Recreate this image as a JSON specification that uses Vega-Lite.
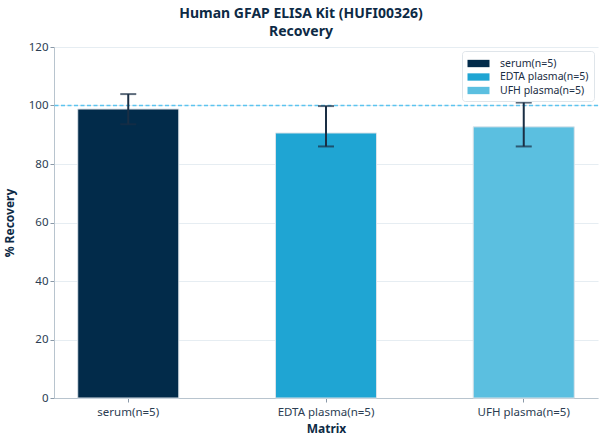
{
  "$schema": "https://vega.github.io/schema/vega-lite/v6.json",
  "width": 544,
  "height": 351,
  "autosize": {"type": "none"},
  "padding": {"left": 54, "top": 47, "right": 10, "bottom": 46},
  "background": "white",
  "config": {
    "font": "Noto Sans",
    "view": {"stroke": null},
    "axis": {
      "labelFont": "Noto Sans", "labelFontSize": 11.5, "labelColor": "#2b3d52",
      "titleFont": "Noto Sans", "titleFontSize": 12, "titleFontWeight": "bold", "titleColor": "#0d2a45",
      "domainColor": "#b8c4ce", "tickColor": "#8a99a8", "tickSize": 4
    }
  },
  "title": {
    "text": ["Human GFAP ELISA Kit (HUFI00326)", "Recovery"],
    "font": "Noto Sans", "fontSize": 14, "fontWeight": "bold", "color": "#0d2a45",
    "anchor": "middle", "frame": "bounds", "offset": 2, "lineHeight": 18
  },
  "data": {
    "values": [
      {"matrix": "serum(n=5)", "recovery": 98.8, "low": 93.6, "high": 103.9},
      {"matrix": "EDTA plasma(n=5)", "recovery": 90.6, "low": 86.0, "high": 99.8},
      {"matrix": "UFH plasma(n=5)", "recovery": 92.7, "low": 86.0, "high": 101.0}
    ]
  },
  "encoding": {
    "x": {
      "field": "matrix", "type": "nominal", "sort": null, "title": "Matrix",
      "scale": {"paddingInner": 0.489, "paddingOuter": 0.12},
      "axis": {"labelAngle": 0, "labelPadding": 4, "titlePadding": 6}
    }
  },
  "layer": [
    {
      "mark": {"type": "bar", "stroke": "#dce3e9", "strokeWidth": 1},
      "encoding": {
        "y": {
          "field": "recovery", "type": "quantitative", "title": "% Recovery",
          "scale": {"domain": [0, 120], "nice": false},
          "axis": {"values": [0, 20, 40, 60, 80, 100, 120], "grid": true, "gridColor": "#e6edf2", "gridWidth": 1.2, "titlePadding": 12}
        },
        "color": {
          "field": "matrix", "type": "nominal", "sort": null,
          "scale": {"domain": ["serum(n=5)", "EDTA plasma(n=5)", "UFH plasma(n=5)"], "range": ["#022b4a", "#1fa5d3", "#5bbfe0"]},
          "legend": {
            "title": null, "orient": "top-right", "offset": 4,
            "symbolType": "M-1.5,-0.5H1.5V0.5H-1.5Z", "symbolSize": 215, "symbolStrokeWidth": 0,
            "labelFont": "Noto Sans", "labelFontSize": 10.5, "labelColor": "#1a2e44",
            "rowPadding": 0.5, "padding": 5, "labelOffset": 14, "symbolOffset": 4,
            "fillColor": "white", "strokeColor": "#dfe5ea", "cornerRadius": 3
          }
        }
      }
    },
    {
      "mark": {"type": "rule", "stroke": "#5cc4ef", "color": "#5cc4ef", "strokeDash": [4, 2.5], "strokeWidth": 1.4, "opacity": 1},
      "data": {"values": [{"ref": 100}]},
      "encoding": {"y": {"field": "ref", "type": "quantitative"}, "x": null}
    },
    {
      "mark": {"type": "rule", "color": "#1a2e44", "strokeWidth": 2},
      "encoding": {
        "y": {"field": "low", "type": "quantitative"},
        "y2": {"field": "high"}
      }
    },
    {
      "mark": {"type": "tick", "orient": "horizontal", "color": "#1a2e44", "size": 16, "thickness": 2},
      "encoding": {"y": {"field": "high", "type": "quantitative"}}
    },
    {
      "mark": {"type": "tick", "orient": "horizontal", "color": "#1a2e44", "size": 16, "thickness": 2},
      "encoding": {"y": {"field": "low", "type": "quantitative"}}
    }
  ]
}
